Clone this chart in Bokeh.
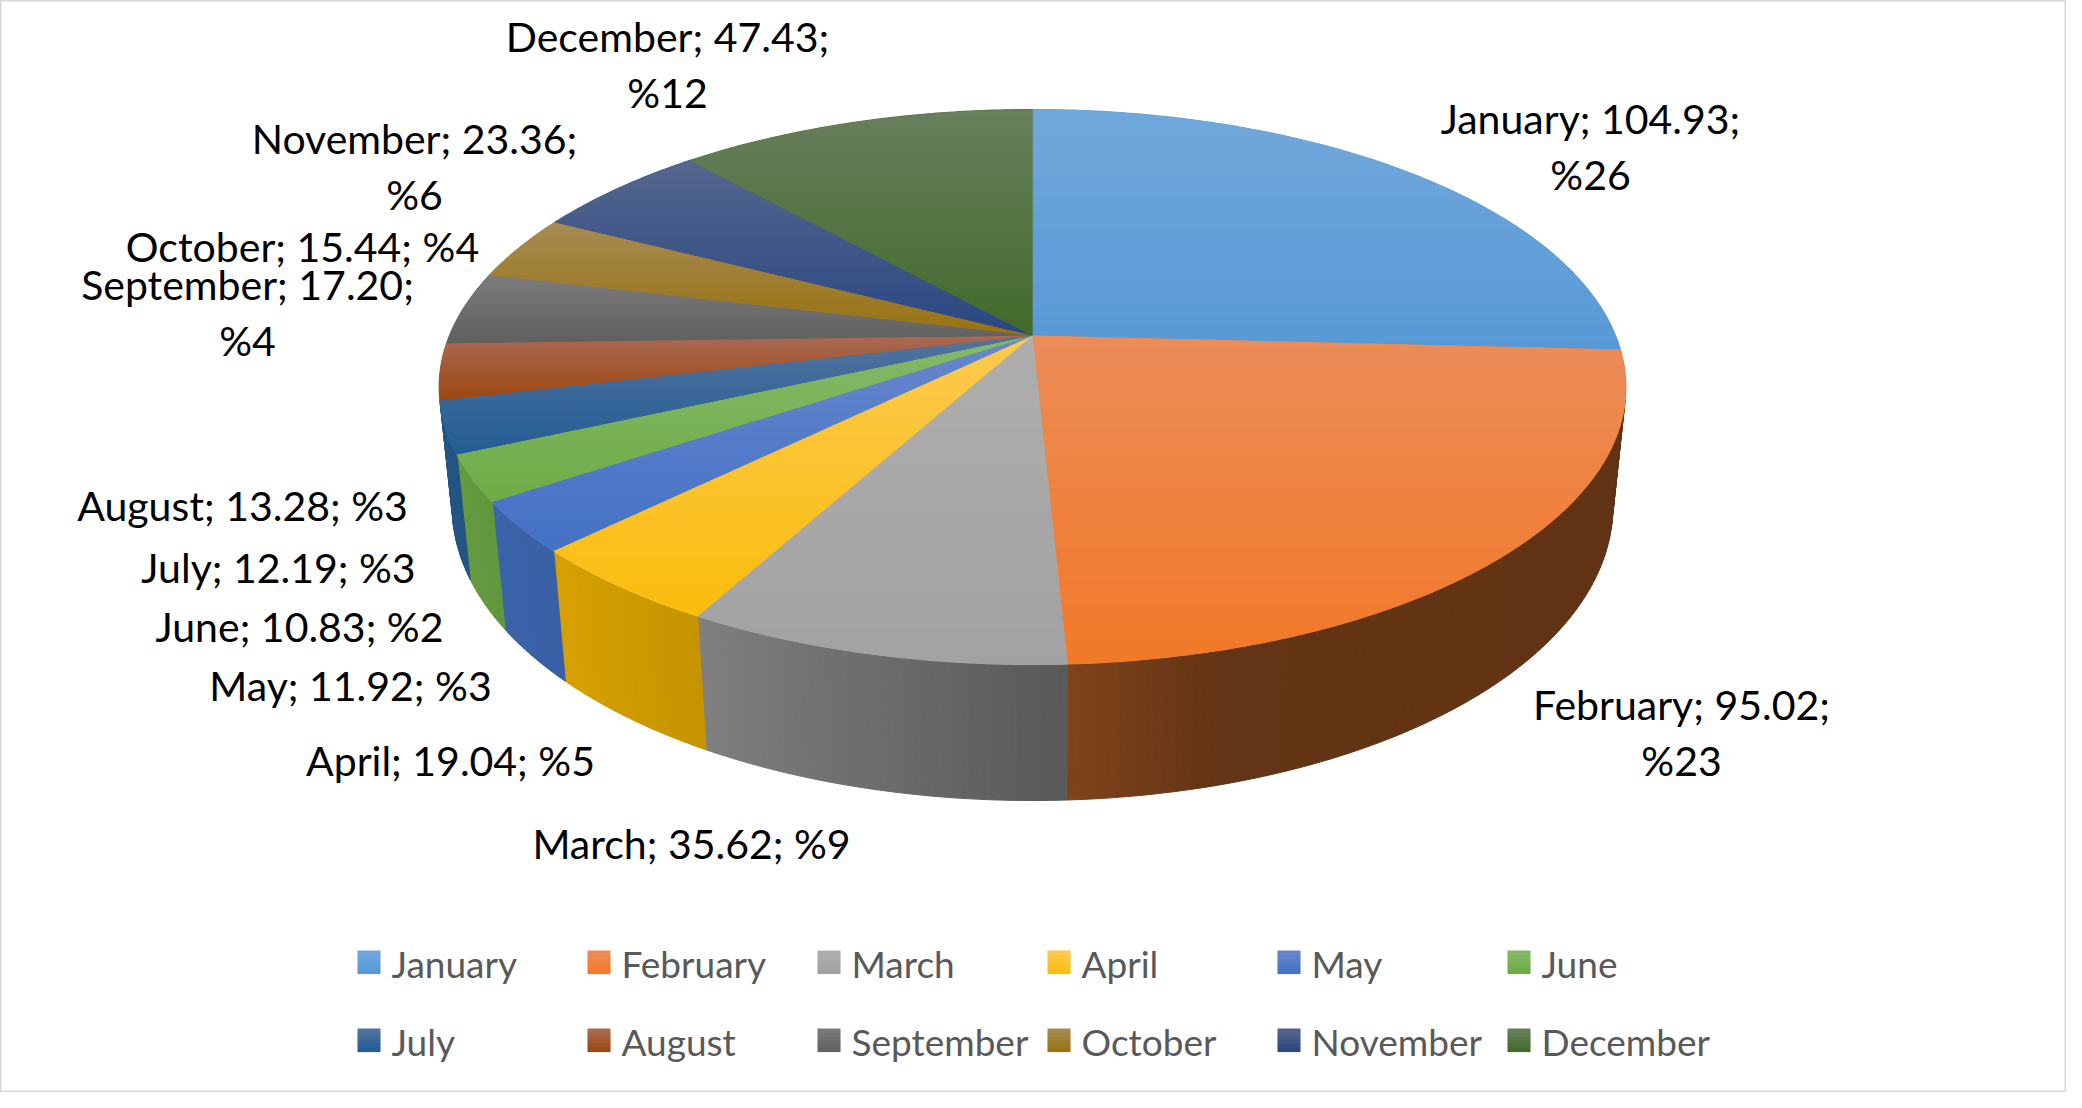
import numpy as np
from bokeh.plotting import figure
from bokeh.models import Range1d, ColumnDataSource
from bokeh.core.properties import value
from bokeh.embed import file_html
from bokeh.resources import INLINE

# ---------------- data ----------------
months = ["January", "February", "March", "April", "May", "June",
          "July", "August", "September", "October", "November", "December"]
values = [104.93, 95.02, 35.62, 19.04, 11.92, 10.83, 12.19, 13.28, 17.20, 15.44, 23.36, 47.43]
percents = [26, 23, 9, 5, 3, 2, 3, 3, 4, 4, 6, 12]

# ---------------- styles ----------------
base = ["#5B9BD5", "#ED7D31", "#A5A5A5", "#FFC000", "#4472C4", "#70AD47",
        "#255E91", "#9E480E", "#636363", "#997300", "#264478", "#43682B"]
top_light = ["#71A8DB", "#EC8C59", "#AEAEAE", "#FCC94F", "#6787CD", "#85B96A",
             "#52749E", "#AA6A54", "#7B7B7B", "#A68A54", "#55668E", "#687F5D"]
top_dark = ["#5799D6", "#F17927", "#A2A2A2", "#FABD0C", "#4371C5", "#6EAC45",
            "#225C94", "#9C4710", "#606060", "#98730F", "#2A4782", "#426A2B"]

# label layout (reference pixel coords of first line centre) and wrapping
label_pos = [(1598, 126), (1689, 712), (699, 851), (458, 768), (358, 693), (307, 634),
             (286, 575), (250, 513), (255, 292), (310, 254), (422, 146), (675, 44)]
label_wrap = [True, True, False, False, False, False, False, False, True, False, True, True]
LINE_GAP = 56

W, H = 2066, 1092
X0, Y0 = 8, 8

# pie geometry (perspective projection)
CX, CY = 1040.0, 343.0
RA, RB, K = 583.0, 267.9, 0.1856
HC, HM, VY = 117.4, 0.159, 5900.0


def top_pt(phi):
    x = np.sin(phi)
    z = -np.cos(phi)
    f = 1.0 / (1.0 - K * z)
    return CX + RA * x * f, CY + RB * z * f, z


def bottom_pt(phi):
    X, Y, z = top_pt(phi)
    h = HC * (1.0 + HM * z)
    t = h / (VY - Y)
    return X + (CX - X) * t, Y + (VY - Y) * t


def hex2rgb(h):
    h = h.lstrip("#")
    return np.array([int(h[i:i + 2], 16) for i in (0, 2, 4)], dtype=float)


def rgb2hex(c):
    c = np.clip(np.round(c), 0, 255).astype(int)
    return "#%02X%02X%02X" % tuple(c)


def mix(a, b, t):
    return rgb2hex(hex2rgb(a) * (1 - t) + hex2rgb(b) * t)


def clip_y(xs, ys, lo, hi):
    pts = list(zip(xs, ys))

    def clip(pts, keep, c):
        out = []
        n = len(pts)
        for i in range(n):
            cur, prev = pts[i], pts[i - 1]
            ci, pi = keep(cur), keep(prev)
            if ci:
                if not pi:
                    t = (c - prev[1]) / (cur[1] - prev[1])
                    out.append((prev[0] + t * (cur[0] - prev[0]), c))
                out.append(cur)
            elif pi:
                t = (c - prev[1]) / (cur[1] - prev[1])
                out.append((prev[0] + t * (cur[0] - prev[0]), c))
        return out

    pts = clip(pts, lambda p: p[1] >= lo, lo)
    if pts:
        pts = clip(pts, lambda p: p[1] <= hi, hi)
    return pts


# wall brightness as function of angle (lighting)
B_KNOTS = [90, 165, 177.2, 208.7, 225, 240, 255, 275]
B_VALS = [0.40, 0.42, 0.54, 0.77, 0.84, 0.88, 0.92, 0.92]

total = float(sum(values))
cum = np.concatenate([[0.0], np.cumsum(values)]) / total * 2 * np.pi

wall_xs, wall_ys, wall_c = [], [], []
base_xs, base_ys, base_c = [], [], []
band_xs, band_ys, band_c = [], [], []

for i in range(len(values)):
    a0, a1 = cum[i], cum[i + 1]
    # walls
    n = max(2, int(np.degrees(a1 - a0) / 0.8) + 1)
    ph = np.linspace(a0, a1, n + 1)
    tx, ty, _ = top_pt(ph)
    bx, by = bottom_pt(ph)
    for j in range(n):
        qx = [tx[j], tx[j + 1], bx[j + 1], bx[j]]
        qy = [ty[j], ty[j + 1], by[j + 1], by[j]]
        area = sum(qx[k] * qy[(k + 1) % 4] - qx[(k + 1) % 4] * qy[k] for k in range(4))
        if area < -1e-6:
            d = np.degrees(0.5 * (ph[j] + ph[j + 1]))
            br = np.interp(d, B_KNOTS, B_VALS)
            wall_xs.append(qx)
            wall_ys.append(qy)
            wall_c.append(rgb2hex(hex2rgb(base[i]) * br))
    # top face
    m = max(6, int(np.degrees(a1 - a0) * 1.5) + 2)
    pa = np.linspace(a0, a1, m)
    ax, ay, _ = top_pt(pa)
    px = [CX] + list(ax)
    py = [CY] + list(ay)
    base_xs.append(px)
    base_ys.append(py)
    base_c.append(mix(top_light[i], top_dark[i], 0.5))
    ymin, ymax = min(py), max(py)
    nb = 28
    edges = np.linspace(ymin, ymax, nb + 1)
    for b in range(nb):
        poly = clip_y(px, py, edges[b], edges[b + 1] + 0.7)
        if len(poly) >= 3:
            band_xs.append([p[0] for p in poly])
            band_ys.append([p[1] for p in poly])
            band_c.append(mix(top_light[i], top_dark[i], (b + 0.5) / nb))

p = figure(width=W, height=H, x_range=Range1d(X0, X0 + W), y_range=Range1d(Y0 + H, Y0),
           output_backend="svg", toolbar_location=None, x_axis_type=None, y_axis_type=None,
           min_border=0)
p.grid.visible = False
p.outline_line_color = "#D9D9D9"
p.outline_line_width = 2
p.background_fill_color = "white"
p.border_fill_color = "white"

p.patches("xs", "ys", source=ColumnDataSource(dict(xs=wall_xs, ys=wall_ys, c=wall_c)),
          fill_color="c", line_color="c", line_width=1.0)
p.patches("xs", "ys", source=ColumnDataSource(dict(xs=base_xs, ys=base_ys, c=base_c)),
          fill_color="c", line_color="c", line_width=1.2)
p.patches("xs", "ys", source=ColumnDataSource(dict(xs=band_xs, ys=band_ys, c=band_c)),
          fill_color="c", line_color=None)

# data labels
lx, ly, lt = [], [], []
for i, m_ in enumerate(months):
    x, y = label_pos[i]
    num = "%.2f" % values[i]
    pct = "%%%d" % percents[i]
    if label_wrap[i]:
        lx += [x, x]
        ly += [y, y + LINE_GAP]
        lt += ["%s; %s;" % (m_, num), pct]
    else:
        lx.append(x)
        ly.append(y)
        lt.append("%s; %s; %s" % (m_, num, pct))
p.text(x=lx, y=ly, text=lt, text_font=value("Lato"), text_font_size="41px",
       text_align="center", text_baseline="middle", text_color="#000000")

# legend (manual, 6 columns x 2 rows)
LEG_X, LEG_DX, LEG_Y, LEG_DY, BOX = 365, 230, 958, 78, 23
gx, gy, gc, tx_, ty_, tt = [], [], [], [], [], []
for i, m_ in enumerate(months):
    col, row = i % 6, i // 6
    x0 = LEG_X + LEG_DX * col
    y0 = LEG_Y + LEG_DY * row
    nb = 6
    for b in range(nb):
        gx.append([x0, x0 + BOX, x0 + BOX, x0])
        yy0 = y0 + BOX * b / nb
        yy1 = y0 + BOX * (b + 1) / nb + 0.6
        gy.append([yy0, yy0, yy1, yy1])
        gc.append(mix(top_light[i], top_dark[i], (b + 0.5) / nb))
    tx_.append(x0 + BOX + 11)
    ty_.append(y0 + BOX / 2 + 1)
    tt.append(m_)
p.patches("xs", "ys", source=ColumnDataSource(dict(xs=gx, ys=gy, c=gc)),
          fill_color="c", line_color=None)
p.text(x=tx_, y=ty_, text=tt, text_font=value("Lato"), text_font_size="37px",
       text_align="left", text_baseline="middle", text_color="#595959")

open("out.html", "w").write(file_html(p, INLINE))
